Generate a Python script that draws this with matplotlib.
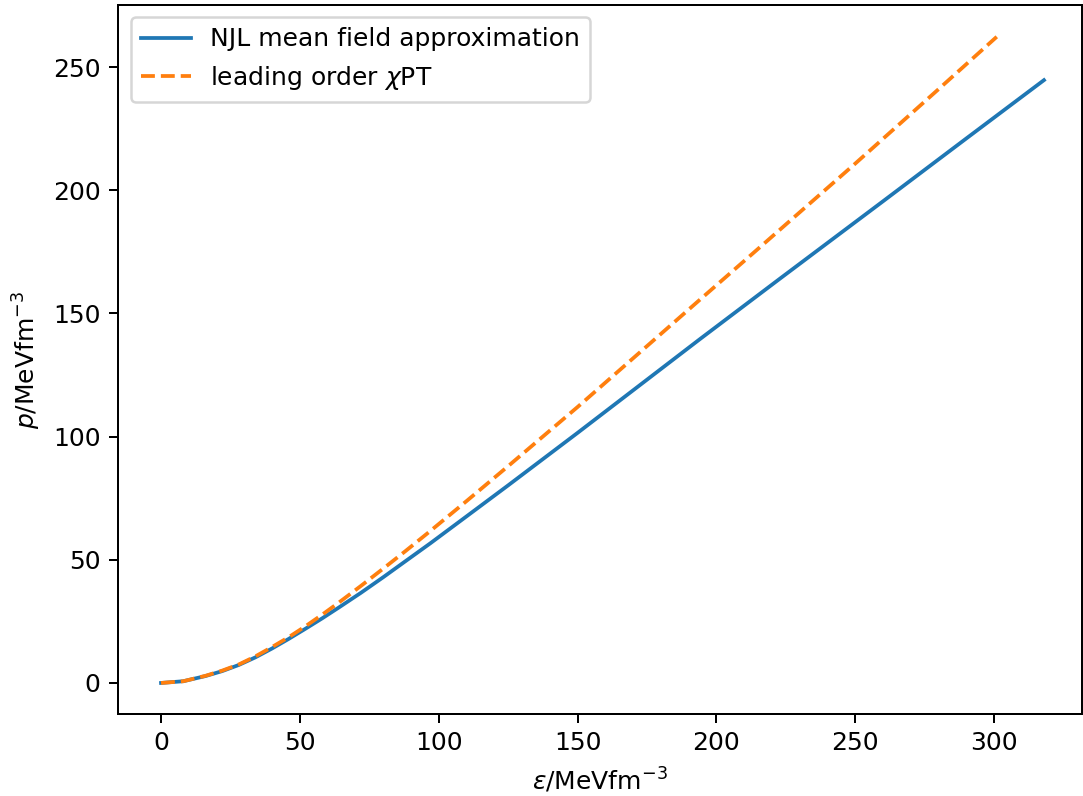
import matplotlib
matplotlib.use("Agg")
import matplotlib.pyplot as plt

# energy density / pressure in MeV fm^-3
eps_njl = [0, 8, 16, 22, 28, 34, 40, 46, 52, 58, 64, 72, 80, 88, 97, 110, 125, 150, 194, 223, 260, 290, 318]
p_njl = [0, 0.7, 2.8, 4.8, 7.3, 10.4, 14.0, 17.9, 22.0, 26.2, 30.6, 36.6, 42.9, 49.4, 56.7, 67.6, 80.2, 101.5, 139.5, 164.2, 195.5, 221.0, 244.7]

eps_chpt = [0, 8, 16, 22, 28, 34, 40, 46, 52, 58, 64, 72, 80, 88, 97, 110, 125, 150, 194, 214, 250, 280, 301]
p_chpt = [0, 0.7, 2.9, 5.0, 7.5, 10.8, 14.6, 18.6, 23.0, 27.7, 32.6, 39.4, 46.4, 53.5, 61.7, 73.8, 88.0, 112.0, 155.5, 175.2, 210.8, 241.0, 262.3]

dpi = 180
W, H = 1083, 796
fig = plt.figure(figsize=(W / dpi, H / dpi), dpi=dpi)
ax = fig.add_axes([118 / W, (H - 714) / H, (1082 - 118) / W, (714 - 5) / H])

ax.plot(eps_njl, p_njl, label='NJL mean field approximation')
ax.plot(eps_chpt, p_chpt, '--', label=r'leading order $\chi$PT')

ax.set_xlim(-15.5, 331.7)
ax.set_ylim(-12.6, 275.2)
ax.set_xlabel(r'$\varepsilon$/MeVfm$^{-3}$')
ax.set_ylabel(r'$p$/MeVfm$^{-3}$')
ax.legend(loc='upper left')

fig.savefig('out.png', dpi=dpi)
